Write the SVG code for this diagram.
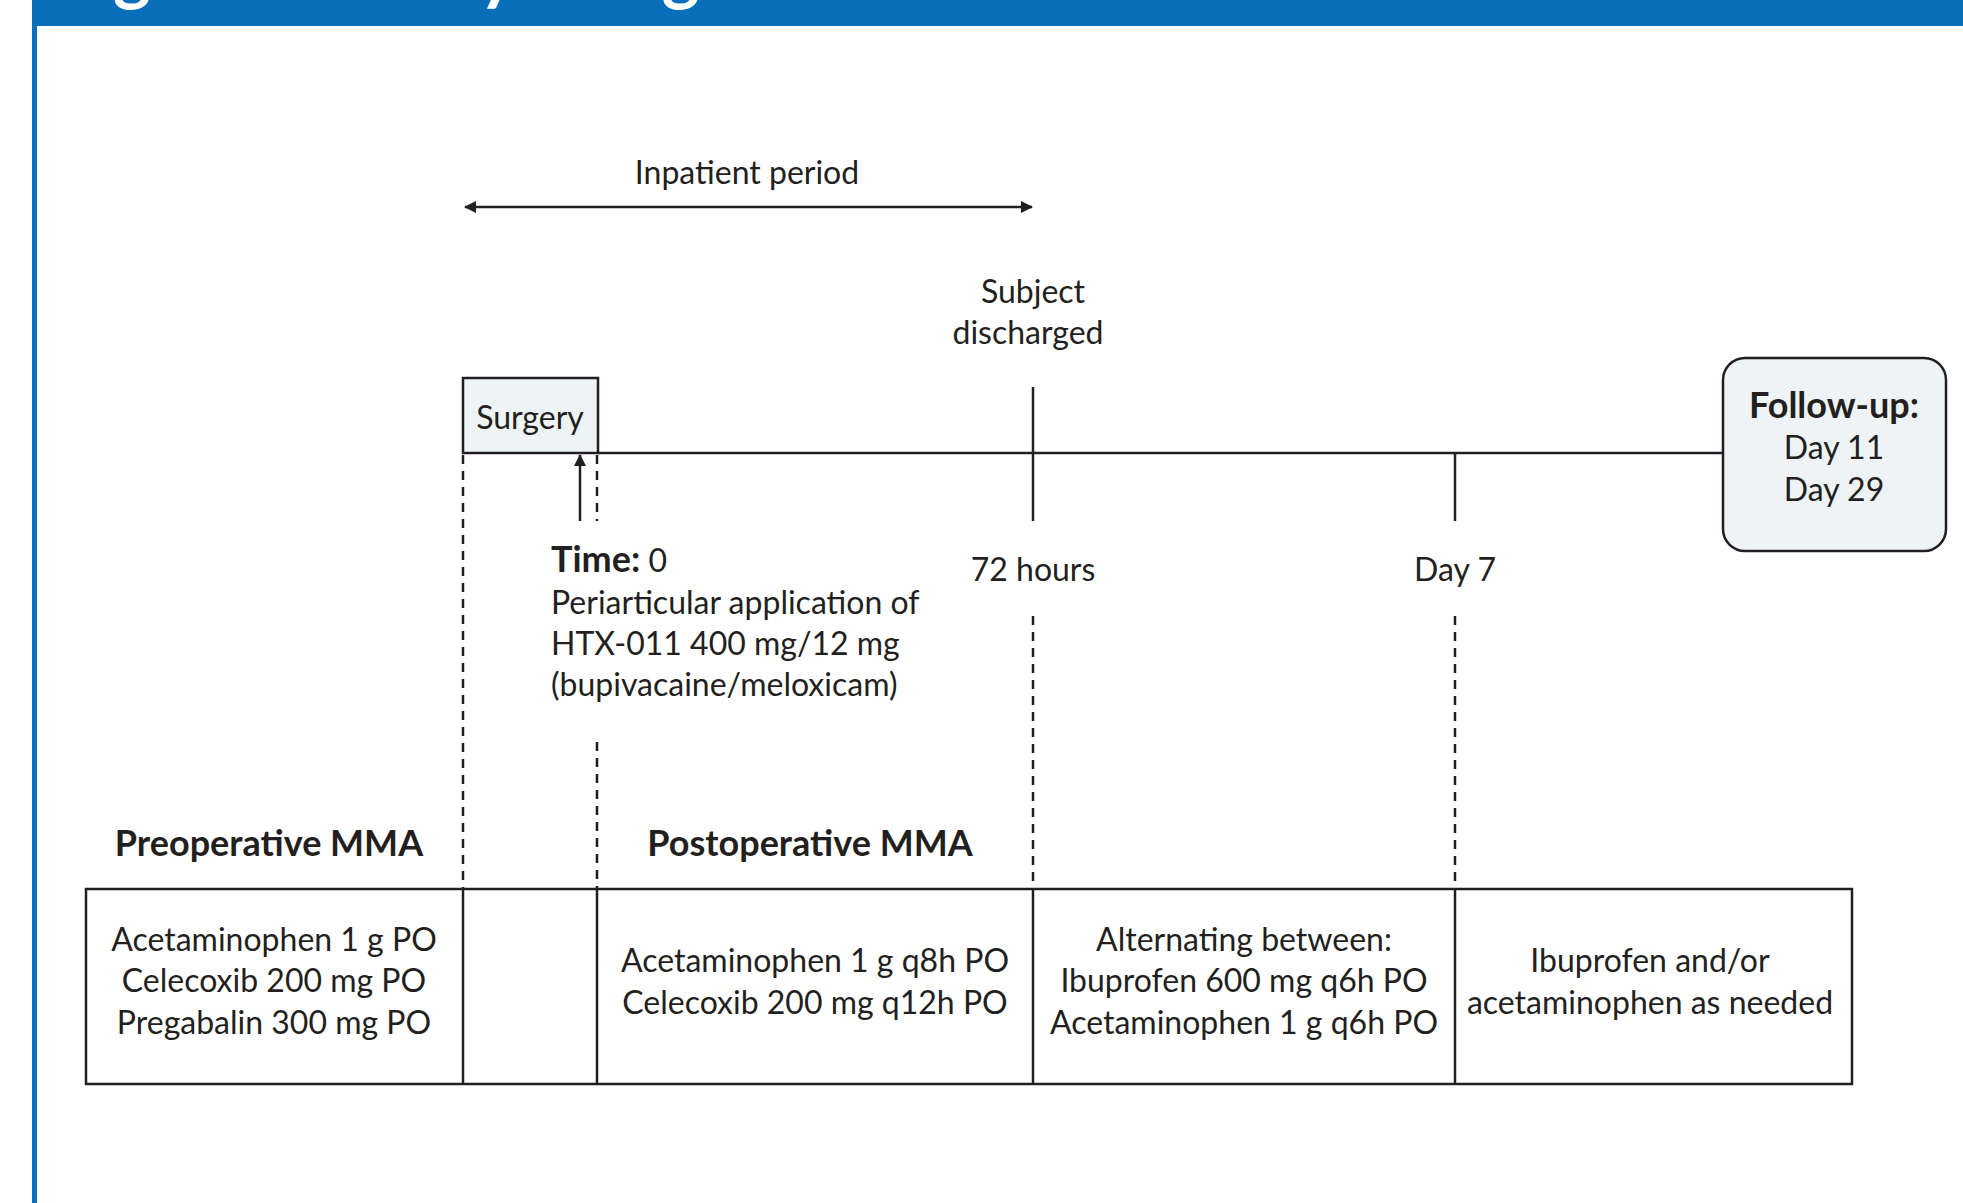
<svg xmlns="http://www.w3.org/2000/svg" width="1963" height="1203" viewBox="0 0 1963 1203">
<defs>
<style>
text{font-family:Lato,"Open Sans","Liberation Sans",sans-serif;font-size:32px;fill:#231f20}
.b{font-weight:bold;font-size:36px}
.c{text-anchor:middle}
.ln{stroke:#231f20;stroke-width:2.5;fill:none}
.dash{stroke:#231f20;stroke-width:2.5;fill:none;stroke-dasharray:9 7}
.box{fill:#eef3f5;stroke:#231f20;stroke-width:2.5}
.title{font-size:72px;font-weight:bold;fill:#ffffff}
</style>
<marker id="ah" viewBox="0 0 12 12" refX="11" refY="6" markerWidth="12" markerHeight="12" markerUnits="userSpaceOnUse" orient="auto-start-reverse">
<path d="M0,0 L12,6 L0,12 Z" fill="#231f20"/>
</marker>
</defs>
<rect width="1963" height="1203" fill="#ffffff"/>
<g id="frame">
<rect x="32" y="0" width="1931" height="26" fill="#0a6fba"/>
<rect x="32" y="26" width="5" height="1177" fill="#0a6fba"/>
<text class="title" x="54" y="-4">Figure 1 Study design</text>
</g>
<g id="connectors">
<line class="ln" x1="465" y1="207" x2="1032" y2="207" marker-start="url(#ah)" marker-end="url(#ah)"/>
<line class="ln" x1="598" y1="453" x2="1723" y2="453"/>
<line class="ln" x1="1033" y1="387" x2="1033" y2="521"/>
<line class="ln" x1="1455" y1="453" x2="1455" y2="521"/>
<line class="ln" x1="580" y1="521" x2="580" y2="455" marker-end="url(#ah)"/>
<line class="dash" x1="463" y1="455" x2="463" y2="889"/>
<line class="dash" x1="597" y1="455" x2="597" y2="521"/>
<line class="dash" x1="597" y1="742" x2="597" y2="889"/>
<line class="dash" x1="1033" y1="616" x2="1033" y2="889"/>
<line class="dash" x1="1455" y1="616" x2="1455" y2="889"/>
</g>
<g id="inpatient">
<text class="c" x="747" y="184">Inpatient period</text>
</g>
<g id="surgery">
<rect class="box" x="463" y="378" width="135" height="75"/>
<text class="c" x="530" y="429">Surgery</text>
</g>
<g id="discharged">
<text class="c" x="1033" y="303">Subject</text>
<text class="c" x="1028" y="344">discharged</text>
</g>
<g id="followup">
<rect class="box" x="1723" y="358" width="223" height="193" rx="22" ry="22"/>
<text class="c b" x="1834" y="418">Follow-up:</text>
<text class="c" x="1834" y="459">Day 11</text>
<text class="c" x="1834" y="501">Day 29</text>
</g>
<g id="hours72">
<text class="c" x="1033" y="581">72 hours</text>
</g>
<g id="day7">
<text class="c" x="1455" y="581">Day 7</text>
</g>
<g id="time0">
<text x="551" y="572"><tspan class="b">Time:</tspan> 0</text>
<text x="551" y="614">Periarticular application of</text>
<text x="551" y="655">HTX-011 400 mg/12 mg</text>
<text x="551" y="696">(bupivacaine/meloxicam)</text>
</g>
<g id="preop-label">
<text class="c b" x="269" y="856">Preoperative MMA</text>
</g>
<g id="postop-label">
<text class="c b" x="810" y="856">Postoperative MMA</text>
</g>
<g id="table">
<rect class="ln" x="86" y="889" width="1766" height="195"/>
<line class="ln" x1="463" y1="889" x2="463" y2="1084"/>
<line class="ln" x1="597" y1="889" x2="597" y2="1084"/>
<line class="ln" x1="1033" y1="889" x2="1033" y2="1084"/>
<line class="ln" x1="1455" y1="889" x2="1455" y2="1084"/>
</g>
<g id="cell-preop">
<text class="c" x="274" y="951">Acetaminophen 1 g PO</text>
<text class="c" x="274" y="992">Celecoxib 200 mg PO</text>
<text class="c" x="274" y="1034">Pregabalin 300 mg PO</text>
</g>
<g id="cell-postop">
<text class="c" x="815" y="972">Acetaminophen 1 g q8h PO</text>
<text class="c" x="815" y="1014">Celecoxib 200 mg q12h PO</text>
</g>
<g id="cell-alternating">
<text class="c" x="1244" y="951">Alternating between:</text>
<text class="c" x="1244" y="992">Ibuprofen 600 mg q6h PO</text>
<text class="c" x="1244" y="1034">Acetaminophen 1 g q6h PO</text>
</g>
<g id="cell-asneeded">
<text class="c" x="1650" y="972">Ibuprofen and/or</text>
<text class="c" x="1650" y="1014">acetaminophen as needed</text>
</g>
</svg>
